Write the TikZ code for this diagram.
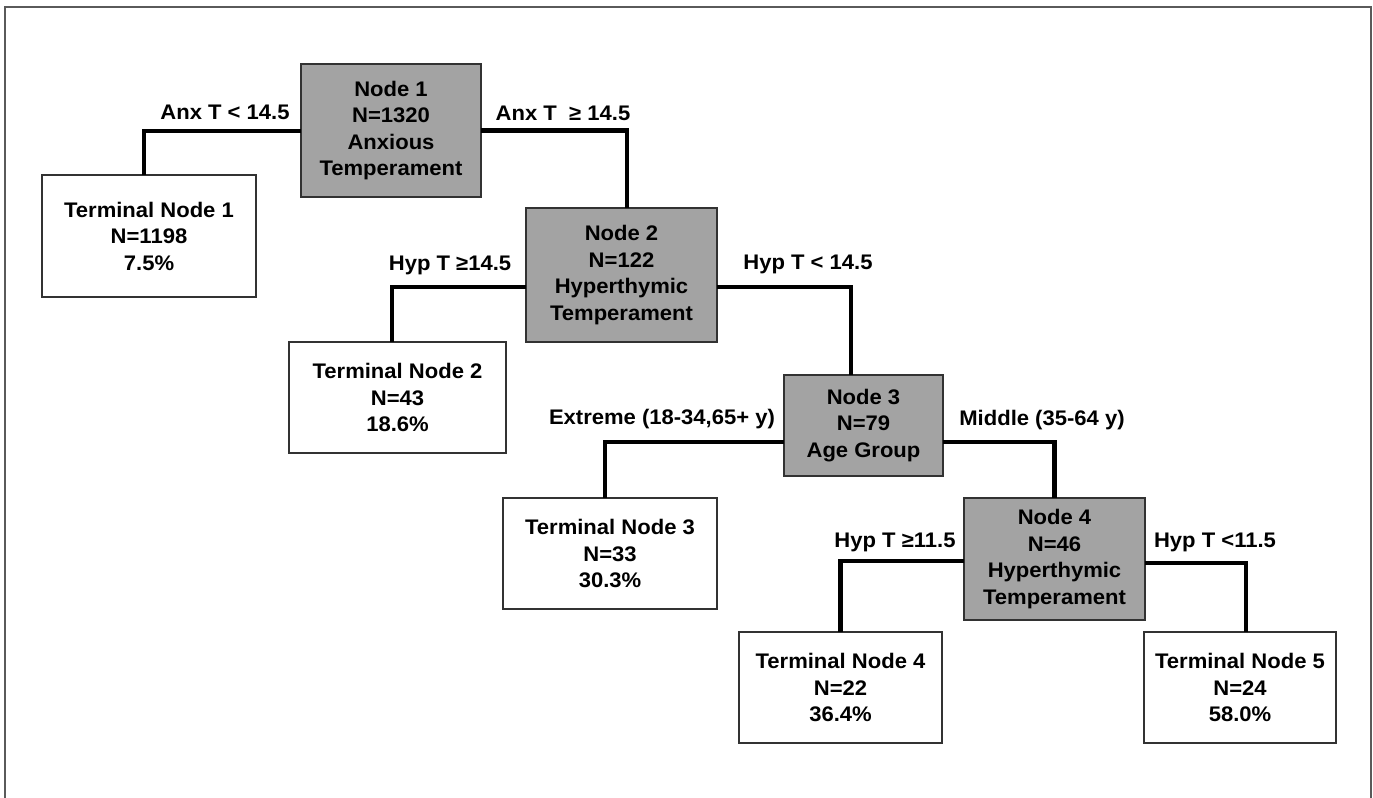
\documentclass[tikz,border=0pt]{standalone}
\usepackage{fontspec}
\setmainfont{Liberation Sans}[FakeStretch=1.045]
\definecolor{boxgray}{RGB}{163,163,163}
\definecolor{edgegray}{RGB}{50,50,50}
\definecolor{framegray}{RGB}{90,90,90}
\tikzset{
  txt/.style={font=\fontsize{12}{15.1}\selectfont\bfseries, align=center, inner sep=0pt, outer sep=0pt},
  splitbox/.style={txt, draw=edgegray, line width=0.8pt, fill=boxgray},
  termbox/.style={txt, draw=edgegray, line width=0.8pt, fill=white},
  lbl/.style={txt},
  conn/.style={line width=2.3pt, black, line join=miter},
  framebox/.style={line width=0.8pt, framegray}
}
\begin{document}
\begin{tikzpicture}[x=0.02cm, y=-0.02cm]
\useasboundingbox (0,0) rectangle (1373,798);
\fill[white] (0,0) rectangle (1373,798);
\coordinate (fbl) at (5,800);
\coordinate (ftl) at (5,7);
\coordinate (ftr) at (1371,7);
\coordinate (fbr) at (1371,800);
\draw[framebox] (fbl) -- (ftl) -- (ftr) -- (fbr);

% split nodes
\node[splitbox, minimum width=3.6cm, minimum height=2.66cm] (n1) at (391,130.5) {Node 1\\N=1320\\Anxious\\Temperament};
\node[splitbox, minimum width=3.82cm, minimum height=2.68cm] (n2) at (621.5,275) {Node 2\\N=122\\Hyperthymic\\Temperament};
\node[splitbox, minimum width=3.18cm, minimum height=2.02cm] (n3) at (863.5,425.5) {Node 3\\N=79\\Age Group};
\node[splitbox, minimum width=3.62cm, minimum height=2.44cm] (n4) at (1054.5,559) {Node 4\\N=46\\Hyperthymic\\Temperament};

% terminal nodes
\node[termbox, minimum width=4.28cm, minimum height=2.44cm] (t1) at (149,236) {Terminal Node 1\\N=1198\\7.5\%};
\node[termbox, minimum width=4.34cm, minimum height=2.22cm] (t2) at (397.5,397.5) {Terminal Node 2\\N=43\\18.6\%};
\node[termbox, minimum width=4.28cm, minimum height=2.22cm] (t3) at (610,553.5) {Terminal Node 3\\N=33\\30.3\%};
\node[termbox, minimum width=4.06cm, minimum height=2.22cm] (t4) at (840.5,687.5) {Terminal Node 4\\N=22\\36.4\%};
\node[termbox, minimum width=3.84cm, minimum height=2.22cm] (t5) at (1240,687.5) {Terminal Node 5\\N=24\\58.0\%};

% connectors
\draw[conn] ([yshift=-0.01cm]n1.west) -| ([xshift=-0.1cm]t1.north);
\draw[conn] (n1.east) -| ([xshift=0.11cm]n2.north);
\draw[conn] ([yshift=-0.24cm]n2.west) -| ([xshift=-0.11cm]t2.north);
\draw[conn] ([yshift=-0.24cm]n2.east) -| ([xshift=-0.25cm]n3.north);
\draw[conn] ([yshift=-0.33cm]n3.west) -| ([xshift=-0.1cm]t3.north);
\draw[conn] ([yshift=-0.33cm]n3.east) -| (n4.north);
\draw[conn] ([yshift=-0.04cm]n4.west) -| (t4.north);
\draw[conn] ([yshift=-0.08cm]n4.east) -| ([xshift=0.12cm]t5.north);

% split labels
\node[lbl] (l1) at (225,112) {Anx T < 14.5};
\node[lbl] (l2) at (563,113) {Anx T \ ≥ 14.5};
\node[lbl] (l3) at (450,265) {Hyp T ≥14.5};
\node[lbl] (l4) at (808,264) {Hyp T < 14.5};
\node[lbl] (l5) at (662,419) {Extreme (18-34,65+ y)};
\node[lbl] (l6) at (1042,420) {Middle (35-64 y)};
\node[lbl] (l7) at (895,542) {Hyp T ≥11.5};
\node[lbl] (l8) at (1215,542) {Hyp T <11.5};
\end{tikzpicture}
\end{document}
